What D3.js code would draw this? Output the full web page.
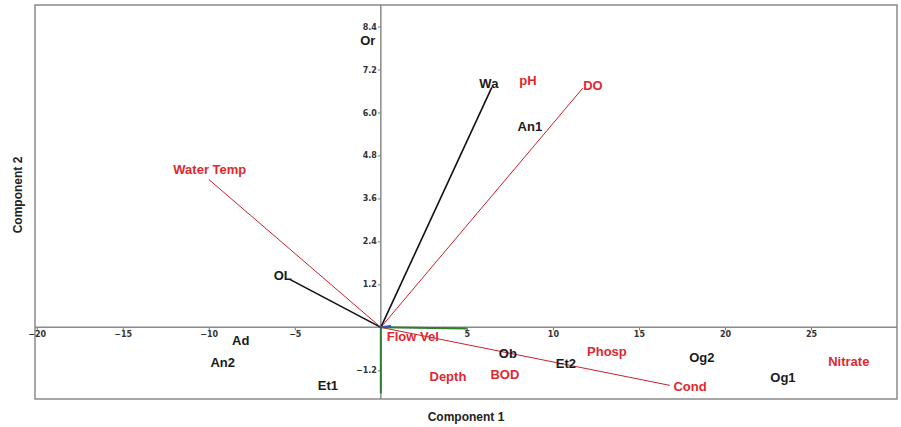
<!DOCTYPE html>
<html>
<head>
<meta charset="utf-8">
<script src="https://cdn.jsdelivr.net/npm/d3@7"></script>
<style>
  body { margin: 0; background: #fff; }
  .tick text { font-family: "DejaVu Sans", sans-serif; font-weight: bold; fill: #333; }
  .lbl { font-family: "Liberation Sans", Arial, sans-serif; font-weight: bold; font-size: 13px; }
  .title { font-family: "Liberation Sans", Arial, sans-serif; font-weight: bold; font-size: 12px; fill: #222; }
</style>
</head>
<body>
<svg id="chart"></svg>
<script>
// sample scores (black labels)
var scoreNames = ["Or", "Wa", "An1", "OL", "Ad", "An2", "Et1", "Ob", "Et2", "Og2", "Og1"];
var scoreX = [-0.76, 6.28, 8.66, -5.70, -8.14, -9.19, -3.08, 7.38, 10.76, 18.66, 23.37];
var scoreY = [8.02, 6.82, 5.61, 1.45, -0.36, -0.98, -1.62, -0.73, -1.01, -0.84, -1.40];

// environmental variables (red labels)
var varNames = ["pH", "DO", "Water Temp", "Flow Vel", "Depth", "BOD", "Phosp", "Cond", "Nitrate"];
var varX = [8.55, 12.33, -9.94, 1.86, 3.90, 7.21, 13.14, 17.97, 27.2];
var varY = [6.90, 6.76, 4.41, -0.25, -1.37, -1.31, -0.67, -1.65, -0.95];

// vectors from origin
var vecNames = ["Wa", "OL", "Water Temp", "DO", "Cond", "Flow Vel", "Depth", "minor"];
var vecKind = ["score", "score", "env", "env", "env", "green", "green", "blue"];
var vecX = [6.45, -5.29, -10.0, 11.74, 16.8, 5.0, 0.0, 0.6];
var vecY = [6.70, 1.34, 4.13, 6.68, -1.62, -0.03, -1.84, 0.04];

var xTicks = [-20, -15, -10, -5, 5, 10, 15, 20, 25];
var yTicks = [-1.2, 1.2, 2.4, 3.6, 4.8, 6.0, 7.2, 8.4];

var svgWidth = 901, svgHeight = 427;
var plotLeft = 35, plotTop = 5, plotRight = 897, plotBottom = 399;

var kindColor = { score: "#111", env: "#c8202a", green: "#2f7d2f", blue: "#3050c0" };
var kindWidth = { score: 1.6, env: 1, green: 2, blue: 2 };

var svg = d3.select("#chart").attr("width", svgWidth).attr("height", svgHeight);

var x = d3.scaleLinear().domain([-20.1, 30]).range([plotLeft, plotRight]);
var y = d3.scaleLinear().domain([-2.0, 9.0]).range([plotBottom, plotTop]);

// frame
svg.append("rect")
  .attr("x", plotLeft).attr("y", plotTop)
  .attr("width", plotRight - plotLeft).attr("height", plotBottom - plotTop)
  .attr("fill", "none").attr("stroke", "#8a8a8a").attr("stroke-width", 1.5);

// axes through origin
var xAxis = d3.axisBottom(x).tickValues(xTicks).tickSize(3).tickPadding(1).tickFormat(d3.format("d"));
var gx = svg.append("g").attr("transform", "translate(0," + y(0) + ")").call(xAxis);
gx.select(".domain").remove();
gx.selectAll(".tick line").attr("stroke", "#777");
gx.selectAll(".tick text").style("font-size", "8px");

var yAxis = d3.axisLeft(y).tickValues(yTicks).tickSize(3).tickPadding(1).tickFormat(d3.format(".1f"));
var gy = svg.append("g").attr("transform", "translate(" + x(0) + ",0)").call(yAxis);
gy.select(".domain").remove();
gy.selectAll(".tick line").attr("stroke", "#777");
gy.selectAll(".tick text").style("font-size", "8px");

svg.append("line")
  .attr("x1", plotLeft).attr("x2", plotRight).attr("y1", y(0)).attr("y2", y(0))
  .attr("stroke", "#8a8a8a").attr("stroke-width", 1.5);
svg.append("line")
  .attr("x1", x(0)).attr("x2", x(0)).attr("y1", plotTop).attr("y2", plotBottom)
  .attr("stroke", "#8a8a8a").attr("stroke-width", 1.5);

// vectors
svg.selectAll("line.vec")
  .data(vecNames)
  .enter().append("line")
  .attr("class", "vec")
  .attr("x1", x(0)).attr("y1", y(0))
  .attr("x2", function(d, i) { return x(vecX[i]); })
  .attr("y2", function(d, i) { return y(vecY[i]); })
  .attr("stroke", function(d, i) { return kindColor[vecKind[i]]; })
  .attr("stroke-width", function(d, i) { return kindWidth[vecKind[i]]; });

// labels
svg.selectAll("text.score")
  .data(scoreNames)
  .enter().append("text")
  .attr("class", "lbl score")
  .attr("x", function(d, i) { return x(scoreX[i]); })
  .attr("y", function(d, i) { return y(scoreY[i]); })
  .attr("text-anchor", "middle")
  .attr("dominant-baseline", "central")
  .attr("fill", "#1a1a1a")
  .text(function(d) { return d; });

svg.selectAll("text.env")
  .data(varNames)
  .enter().append("text")
  .attr("class", "lbl env")
  .attr("x", function(d, i) { return x(varX[i]); })
  .attr("y", function(d, i) { return y(varY[i]); })
  .attr("text-anchor", "middle")
  .attr("dominant-baseline", "central")
  .attr("fill", "#e0282f")
  .text(function(d) { return d; });

// axis titles
svg.append("text").attr("class", "title")
  .attr("x", 466).attr("y", 421)
  .attr("text-anchor", "middle")
  .text("Component 1");

svg.append("text").attr("class", "title")
  .attr("transform", "translate(22,195) rotate(-90)")
  .attr("text-anchor", "middle")
  .text("Component 2");
</script>
</body>
</html>
